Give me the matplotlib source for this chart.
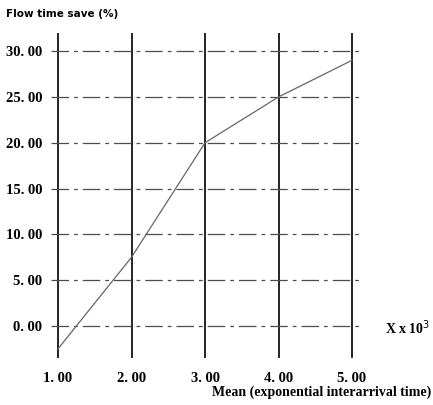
import matplotlib.pyplot as plt

# data
mean_k = [1.0, 2.0, 3.0, 4.0, 5.0]
time_save = [-2.5, 7.5, 20.0, 25.0, 29.0]
y_ticks = [0, 5, 10, 15, 20, 25, 30]
x_ticks = [1, 2, 3, 4, 5]

serif = ["Liberation Serif", "DejaVu Serif"]

fig = plt.figure(figsize=(4.33, 4.05), dpi=100)
ax = fig.add_axes([0.117, 0.116, 0.713, 0.803])
ax.set_xlim(0.9, 5.1)
ax.set_ylim(-3.5, 32)

# vertical grid: solid black
for x in x_ticks:
    ax.axvline(x, color="black", lw=1.2, zorder=1)

# horizontal grid: broken dash-dot lines
for y in y_ticks:
    ax.hlines(y, 0.9, 5.12, color="0.3", lw=0.9,
              linestyles=(0, (14, 4, 3, 4)), zorder=1)

ax.plot(mean_k, time_save, color="0.4", lw=0.9, zorder=2)

def fmt(v):
    return ("%.2f" % v).replace(".", ". ")

for s in ax.spines.values():
    s.set_visible(False)
ax.tick_params(length=0, pad=6)
ax.set_xticks(x_ticks)
ax.set_xticklabels([fmt(v) for v in x_ticks], family=serif,
                   fontsize=10.5, fontweight="bold")
ax.set_yticks(y_ticks)
ax.set_yticklabels([fmt(v) for v in y_ticks], family=serif,
                   fontsize=10.5, fontweight="bold")
ax.tick_params(axis="x", pad=10)

fig.text(0.015, 0.965, "Flow time save (%)", fontsize=7.5,
         fontweight="bold", family="DejaVu Sans", va="center")
fig.text(0.995, 0.032, "Mean (exponential interarrival time)",
         family=serif, fontsize=10, fontweight="bold", ha="right",
         va="center")
fig.text(0.89, 0.19, r"X x 10$^3$", family=serif, fontsize=10,
         fontweight="bold", va="center")

fig.savefig("out.png", dpi=100)
